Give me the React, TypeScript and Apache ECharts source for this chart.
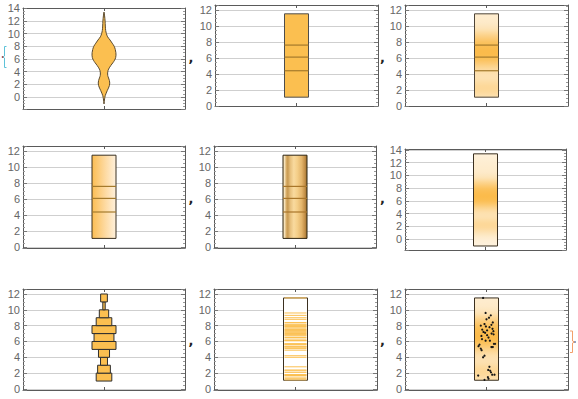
import React, { useEffect, useRef } from 'react';
import * as echarts from 'echarts';

// ---- data ----
// sample values (panel 8 lines, panel 9 points), sorted descending
const sampleValues = [11.5, 9.6, 9.3, 9.0, 8.8, 8.4, 8.2, 8.1, 8.0, 7.9, 7.8, 7.6, 7.5, 7.4, 7.3, 7.2, 7.1, 7.0, 6.9, 6.8, 6.7, 6.5, 6.3, 6.1, 6.1, 5.7, 5.7, 5.6, 5.4, 5.3, 5.3, 5.1, 4.9, 4.2, 4.0, 2.8, 2.4, 2.3, 2.1, 1.8, 1.8, 1.7, 1.5, 1.3, 1.15];
// horizontal jitter of the points in panel 9 (fraction of half box width)
const sampleJitter = [-0.34, -0.09, 0.43, 0.25, 0.0, 0.63, -0.2, 0.49, -0.57, -0.06, 0.3, 0.6, -0.43, 0.06, 0.69, -0.3, -0.14, 0.51, 0.71, 0.06, -0.51, 0.2, -0.45, -0.09, 0.34, 0.74, 0.86, -0.7, -0.8, 0.49, 0.63, -0.57, -0.49, -0.2, -0.34, 0.29, 0.17, 0.37, 0.45, 0.57, 0.8, -0.83, 0.14, 0.2, -0.2];
// box statistics: min, q1, median, q3, max
const boxStats = [1.1, 4.4, 6.1, 7.6, 11.5];
// smoothed density (violin) profile: heights and relative half widths
const violinY = [13.4, 12.8, 12.0, 11.2, 10.5, 10.0, 9.5, 9.0, 8.5, 8.0, 7.5, 7.0, 6.6, 6.2, 5.8, 5.4, 5.0, 4.6, 4.2, 3.8, 3.4, 3.0, 2.6, 2.2, 1.8, 1.4, 1.0, 0.6, 0.2, -0.3, -0.7, -1.1];
const violinW = [0, 0.05, 0.09, 0.11, 0.14, 0.2, 0.3, 0.5, 0.68, 0.85, 0.94, 0.99, 1.0, 0.97, 0.88, 0.74, 0.58, 0.44, 0.34, 0.3, 0.31, 0.38, 0.45, 0.48, 0.45, 0.37, 0.27, 0.18, 0.1, 0.05, 0.02, 0];
// histogram: bin lower edges (width 1) and relative widths
const histEdges = [1, 2, 3, 4, 5, 6, 7, 8, 9, 10, 11];
const histWidths = [0.65, 0.53, 0.29, 0.46, 1.0, 0.83, 1.0, 0.65, 0.39, 0.1, 0.28];

// ---- layout ----
const panels = [
  { kind: 'violin', x0: 23, x1: 185, y0: 8, y1: 109, ymin: -1.9, ymax: 14.05 },
  { kind: 'box', x0: 215, x1: 378, y0: 5, y1: 106, ymin: 0, ymax: 12.6 },
  { kind: 'boxDensity', x0: 405, x1: 568, y0: 5, y1: 106, ymin: 0, ymax: 12.6 },
  { kind: 'boxHoriz', x0: 23, x1: 185, y0: 146, y1: 248, ymin: -0.1, ymax: 12.65 },
  { kind: 'boxGold', x0: 214, x1: 376, y0: 146, y1: 248, ymin: -0.1, ymax: 12.65 },
  { kind: 'kde', x0: 405, x1: 566, y0: 149, y1: 250, ymin: -1.73, ymax: 14.16 },
  { kind: 'hist', x0: 23, x1: 185, y0: 289, y1: 390, ymin: -0.13, ymax: 12.63 },
  { kind: 'lines', x0: 214, x1: 377, y0: 289, y1: 390, ymin: -0.13, ymax: 12.63 },
  { kind: 'points', x0: 405, x1: 568, y0: 289, y1: 390, ymin: -0.13, ymax: 12.63 },
];

const HW = 12; // box half width px
const ORANGE = '#FBBF50';
const FRAME = '#5a5a5a';
const QLINE = '#A47A2C';
const DARKBORDER = '#3b3020';
const LIGHT = [254, 242, 222];
const DARK = [251, 187, 75];

function lerpColor(a: number[], b: number[], t: number) {
  const c = a.map((v, i) => Math.round(v + (b[i] - v) * Math.max(0, Math.min(1, t))));
  return `rgb(${c[0]},${c[1]},${c[2]})`;
}
function densityAt(y: number) {
  const n = violinY.length;
  if (y >= violinY[0] || y <= violinY[n - 1]) return 0;
  for (let i = 0; i < n - 1; i++) {
    if (y <= violinY[i] && y >= violinY[i + 1]) {
      const t = (violinY[i] - y) / (violinY[i] - violinY[i + 1]);
      return violinW[i] + t * (violinW[i + 1] - violinW[i]);
    }
  }
  return 0;
}
function densityGradient(yTop: number, yBot: number) {
  const stops: any[] = [];
  const N = 50;
  for (let k = 0; k <= N; k++) {
    const y = yTop - ((yTop - yBot) * k) / N;
    stops.push({ offset: k / N, color: lerpColor(LIGHT, DARK, densityAt(y)) });
  }
  return { type: 'linear', x: 0, y: 0, x2: 0, y2: 1, colorStops: stops };
}

const horizGradient = {
  type: 'linear', x: 0, y: 0, x2: 1, y2: 0,
  colorStops: [
    { offset: 0, color: '#FBBD52' },
    { offset: 0.5, color: '#FDD79A' },
    { offset: 1, color: '#FFF1DD' },
  ],
};
const goldGradient = {
  type: 'linear', x: 0, y: 0, x2: 1, y2: 0,
  colorStops: [
    { offset: 0, color: '#F3DDB0' },
    { offset: 0.06, color: '#F7E4BE' },
    { offset: 0.14, color: '#D9AE68' },
    { offset: 0.2, color: '#C99A52' },
    { offset: 0.3, color: '#E6BF7C' },
    { offset: 0.45, color: '#F9DA9E' },
    { offset: 0.6, color: '#F4CE88' },
    { offset: 0.78, color: '#E3B46A' },
    { offset: 0.9, color: '#C6924A' },
    { offset: 1, color: '#9E7332' },
  ],
};

function makeRender(kind: string) {
  return (params: any, api: any) => {
    const cx = api.coord([1, 0])[0];
    const py = (v: number) => api.coord([1, v])[1];
    const children: any[] = [];
    const rectFor = (lo: number, hi: number) => {
      const t = py(hi), b = py(lo);
      return { x: cx - HW, y: t, width: 2 * HW, height: b - t };
    };
    const qLines = (color: string) => {
      [boxStats[1], boxStats[2], boxStats[3]].forEach((q) => {
        const y = py(q);
        children.push({ type: 'line', shape: { x1: cx - HW, y1: y, x2: cx + HW, y2: y }, style: { stroke: color, lineWidth: 1.2 } });
      });
    };
    const lo = boxStats[0], hi = boxStats[4];
    if (kind === 'violin') {
      const right = violinY.map((y, i) => [cx + violinW[i] * HW, py(y)]);
      const left = violinY.map((y, i) => [cx - violinW[i] * HW, py(y)]).reverse();
      children.push({ type: 'polygon', shape: { points: right.concat(left), smooth: 0.3 }, style: { fill: ORANGE, stroke: '#5b4a2e', lineWidth: 1 } });
    } else if (kind === 'box') {
      children.push({ type: 'rect', shape: rectFor(lo, hi), style: { fill: ORANGE, stroke: '#4d4d4d', lineWidth: 1 } });
      qLines(QLINE);
    } else if (kind === 'boxDensity') {
      children.push({ type: 'rect', shape: rectFor(lo, hi), style: { fill: densityGradient(hi, lo), stroke: '#4d4438', lineWidth: 1 } });
      qLines(QLINE);
    } else if (kind === 'boxHoriz') {
      children.push({ type: 'rect', shape: rectFor(lo, hi), style: { fill: horizGradient, stroke: DARKBORDER, lineWidth: 1 } });
      qLines(QLINE);
    } else if (kind === 'boxGold') {
      children.push({ type: 'rect', shape: rectFor(lo, hi), style: { fill: goldGradient, stroke: '#2e2410', lineWidth: 1 } });
      qLines('#A8762A');
    } else if (kind === 'kde') {
      const top = violinY[0], bot = violinY[violinY.length - 1];
      children.push({ type: 'rect', shape: rectFor(bot, top), style: { fill: densityGradient(top, bot), stroke: DARKBORDER, lineWidth: 1 } });
    } else if (kind === 'hist') {
      histEdges.forEach((e, i) => {
        const w = histWidths[i] * HW;
        const t = py(e + 1), b = py(e);
        children.push({ type: 'rect', shape: { x: cx - w, y: t, width: 2 * w, height: b - t }, style: { fill: ORANGE, stroke: '#2d2d2d', lineWidth: 1 } });
      });
    } else if (kind === 'lines') {
      children.push({ type: 'rect', shape: rectFor(lo, hi), style: { fill: '#ffffff', stroke: DARKBORDER, lineWidth: 1 } });
      sampleValues.forEach((v) => {
        const y = py(v);
        children.push({ type: 'line', shape: { x1: cx - HW + 1, y1: y, x2: cx + HW - 1, y2: y }, style: { stroke: ORANGE, lineWidth: 1 } });
      });
    } else if (kind === 'points') {
      children.push({ type: 'rect', shape: rectFor(lo, hi), style: { fill: densityGradient(hi, lo), stroke: DARKBORDER, lineWidth: 1 } });
      sampleValues.forEach((v, i) => {
        children.push({ type: 'circle', shape: { cx: cx + sampleJitter[i] * (HW - 2), cy: py(v), r: 1.1 }, style: { fill: '#161616' } });
      });
    }
    return { type: 'group', children };
  };
}

const labelFmt = (v: number) => {
  const r = Math.round(v);
  return Math.abs(v - r) < 1e-6 && r % 2 === 0 ? String(r) : '';
};

export default function App() {
  const ref = useRef<HTMLDivElement>(null);
  useEffect(() => {
    if (!ref.current) return;
    const chart = echarts.init(ref.current, undefined, { renderer: 'svg' });
    const grids: any[] = [], xAxes: any[] = [], yAxes: any[] = [], series: any[] = [];
    panels.forEach((p, i) => {
      grids.push({ left: p.x0, top: p.y0, width: p.x1 - p.x0, height: p.y1 - p.y0 });
      const xa = (pos: string) => ({
        type: 'value', gridIndex: i, position: pos, min: 0, max: 2, interval: 1,
        axisLine: { show: true, onZero: false, lineStyle: { color: FRAME, width: 1 } },
        axisTick: { show: true, inside: true, length: 3, lineStyle: { color: FRAME } },
        axisLabel: { show: false }, splitLine: { show: false },
      });
      xAxes.push(xa('bottom'), xa('top'));
      const ya = (pos: string, main: boolean) => ({
        type: 'value', gridIndex: i, position: pos, min: p.ymin, max: p.ymax,
        minInterval: 2, maxInterval: 2, splitNumber: 6,
        axisLine: { show: true, onZero: false, lineStyle: { color: FRAME, width: 1 } },
        axisTick: { show: true, inside: true, length: 4, lineStyle: { color: '#777' } },
        minorTick: { show: true, splitNumber: 4, length: 2, lineStyle: { color: '#999' } },
        axisLabel: { show: main, formatter: labelFmt, color: '#666', fontSize: 11, fontFamily: 'Liberation Sans', margin: 3 },
        splitLine: { show: main, lineStyle: { color: '#cfcfcf', width: 1 } },
      });
      yAxes.push(ya('left', true), ya('right', false));
      series.push({
        type: 'custom', xAxisIndex: 2 * i, yAxisIndex: 2 * i, silent: true,
        data: [[1, 0]], renderItem: makeRender(p.kind), z: 5,
      });
    });
    const commaPos = [[188.5, 57], [380, 57], [188.5, 198.3], [380, 198.3], [188.5, 340.3], [380, 340.3]];
    const graphic: any[] = commaPos.map(([x, y]) => ({
      type: 'text', x, y,
      style: { text: ',', fontSize: 13, fontWeight: 'bold', fontFamily: 'DejaVu Sans', fill: '#222', verticalAlign: 'middle', align: 'left' },
    }));
    graphic.push({ type: 'polyline', shape: { points: [[6.5, 46.5], [4.5, 46.5], [4.5, 56], [2.5, 57], [4.5, 58], [4.5, 67.5], [6.5, 67.5]] }, style: { stroke: '#5EC2D9', lineWidth: 1, fill: null } });
    graphic.push({ type: 'circle', shape: { cx: 2.5, cy: 57, r: 0.8 }, style: { fill: '#b04040' } });
    graphic.push({ type: 'polyline', shape: { points: [[570, 331], [572.5, 331], [572.5, 341], [574.8, 342], [572.5, 343], [572.5, 352.5], [570, 352.5]] }, style: { stroke: '#F2A06A', lineWidth: 1, fill: null } });
    graphic.push({ type: 'circle', shape: { cx: 575, cy: 342, r: 0.8 }, style: { fill: '#5a7ab0' } });
    chart.setOption({
      animation: false,
      backgroundColor: '#ffffff',
      grid: grids, xAxis: xAxes, yAxis: yAxes, series, graphic,
    });
    return () => chart.dispose();
  }, []);
  return <div ref={ref} style={{ position: 'absolute', left: 0, top: 0, width: 578, height: 399 }} />;
}
